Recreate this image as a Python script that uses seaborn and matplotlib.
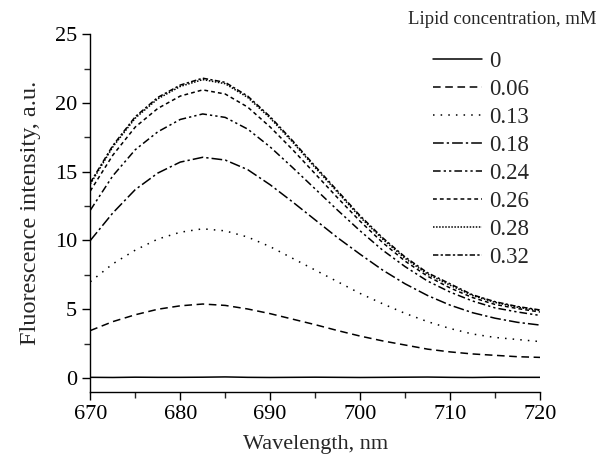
import numpy as np
import pandas as pd
import matplotlib
matplotlib.use("Agg")
import matplotlib.pyplot as plt
from matplotlib.ticker import MultipleLocator
import seaborn as sns

# wavelengths (nm)
wavelength = [670, 672.5, 675, 677.5, 680, 682.5, 685, 687.5, 690, 692.5, 695,
              697.5, 700, 702.5, 705, 707.5, 710, 712.5, 715, 717.5, 720]

# fluorescence intensity for each lipid concentration (a.u.)
c_0 = [0.05, 0.04, 0.06, 0.05, 0.05, 0.06, 0.08, 0.05, 0.04, 0.05, 0.06,
       0.05, 0.04, 0.05, 0.06, 0.07, 0.05, 0.04, 0.06, 0.05, 0.05]
c_006 = [3.45, 4.1, 4.6, 5.0, 5.25, 5.38, 5.28, 5.02, 4.68, 4.28, 3.88,
         3.45, 3.05, 2.7, 2.4, 2.1, 1.9, 1.75, 1.65, 1.55, 1.5]
c_013 = [7.0, 8.3, 9.3, 10.1, 10.6, 10.85, 10.7, 10.25, 9.55, 8.7, 7.85,
         7.0, 6.15, 5.4, 4.7, 4.1, 3.6, 3.2, 2.95, 2.8, 2.65]
c_018 = [10.0, 12.0, 13.7, 14.9, 15.7, 16.05, 15.85, 15.15, 14.05, 12.8, 11.5,
         10.2, 9.0, 7.85, 6.85, 6.0, 5.3, 4.75, 4.35, 4.05, 3.85]
c_024 = [12.2, 14.7, 16.6, 17.9, 18.8, 19.2, 18.95, 18.1, 16.8, 15.3, 13.75,
         12.2, 10.7, 9.3, 8.1, 7.05, 6.25, 5.6, 5.1, 4.8, 4.55]
c_026 = [13.6, 16.2, 18.25, 19.6, 20.5, 20.95, 20.65, 19.7, 18.25, 16.6, 14.85,
         13.1, 11.4, 9.85, 8.5, 7.4, 6.55, 5.85, 5.35, 5.05, 4.8]
c_028 = [14.1, 16.8, 18.9, 20.3, 21.2, 21.7, 21.4, 20.4, 18.9, 17.15, 15.3,
         13.5, 11.7, 10.1, 8.7, 7.55, 6.75, 6.0, 5.5, 5.15, 4.9]
c_032 = [14.2, 16.9, 19.0, 20.4, 21.3, 21.8, 21.5, 20.5, 19.0, 17.25, 15.4,
         13.6, 11.8, 10.2, 8.8, 7.65, 6.85, 6.05, 5.55, 5.2, 4.95]

labels = ["0", "0.06", "0.13", "0.18", "0.24", "0.26", "0.28", "0.32"]
series = [c_0, c_006, c_013, c_018, c_024, c_026, c_028, c_032]

# long format table for seaborn
frames = []
for lab, vals in zip(labels, series):
    frames.append(pd.DataFrame({"Wavelength": wavelength, "Intensity": vals, "conc": lab}))
df = pd.concat(frames, ignore_index=True)

dashes = {
    "0": "",
    "0.06": (5, 3),
    "0.13": (1, 4),
    "0.18": (7, 2, 1.5, 2),
    "0.24": (5, 2, 1.5, 2, 1.5, 2),
    "0.26": (2.5, 2),
    "0.28": (1, 1),
    "0.32": (3.5, 1.5, 1.5, 1.5),
}

sns.set_style("ticks")
plt.rcParams["font.family"] = ["Liberation Serif", "DejaVu Serif"]

fig = plt.figure(figsize=(5.98, 4.62), dpi=100)
ax = fig.add_axes([0.151, 0.152, 0.752, 0.774])

sns.lineplot(data=df, x="Wavelength", y="Intensity", style="conc",
             style_order=labels, dashes=dashes, color="black",
             linewidth=1.1, ax=ax, legend=True)

ax.set_xlim(670, 720)
ax.set_ylim(-1, 25)
ax.xaxis.set_major_locator(MultipleLocator(10))
ax.xaxis.set_minor_locator(MultipleLocator(5))
ax.yaxis.set_major_locator(MultipleLocator(5))
ax.yaxis.set_minor_locator(MultipleLocator(2.5))
ax.tick_params(which="major", direction="out", length=6, width=1,
               labelsize=16, colors="black")
ax.tick_params(which="minor", direction="out", length=4, width=1)
for side in ["top", "right"]:
    ax.spines[side].set_visible(False)
for side in ["left", "bottom"]:
    ax.spines[side].set_linewidth(1)
    ax.spines[side].set_color("black")
ax.spines["left"].set_bounds(-1, 25)

ax.set_xlabel("Wavelength, nm", fontsize=16, labelpad=8)
ax.set_ylabel("Fluorescence intensity, a.u.", fontsize=17.5, labelpad=10)

# legend, title drawn separately so the entries sit under its right part
handles, labs = ax.get_legend_handles_labels()
ax.legend(handles, labs, loc="upper left", bbox_to_anchor=(0.724, 0.889),
          bbox_transform=fig.transFigure, frameon=False, fontsize=16.5,
          handlelength=2.15, handletextpad=0.3, labelspacing=0.3,
          borderpad=0, borderaxespad=0)
fig.text(0.682, 0.957, "Lipid concentration, mM", fontsize=13.5,
         ha="left", va="center")

fig.savefig("out.png", dpi=100)
